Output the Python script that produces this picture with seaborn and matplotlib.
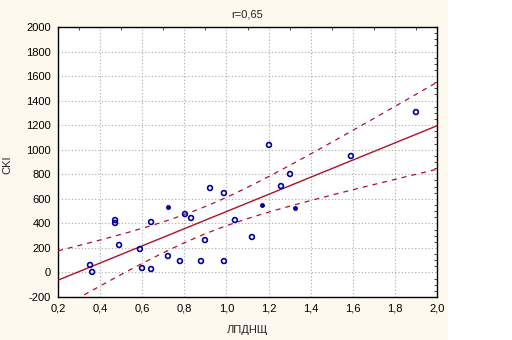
import numpy as np
import pandas as pd
import matplotlib
matplotlib.use("Agg")
import matplotlib.pyplot as plt
import seaborn as sns
from matplotlib.patches import Rectangle
from matplotlib.ticker import MultipleLocator, FuncFormatter

# Data
lpdnsch = [0.352, 0.362, 0.471, 0.471, 0.490, 0.589, 0.599, 0.642, 0.642, 0.722,
           0.779, 0.803, 0.832, 0.879, 0.898, 0.922, 0.988, 0.988, 1.040, 1.121,
           1.202, 1.259, 1.302, 1.591, 1.900]
cki = [61, 4, 427, 403, 224, 191, 36, 28, 411, 134,
       93, 476, 444, 93, 264, 688, 647, 93, 427, 289,
       1039, 704, 802, 949, 1307]
lpdnsch_solid = [0.722, 1.168, 1.325]
cki_solid = [533, 550, 525]

title = "r=0,65"
xlabel = "ЛПДНЩ"
ylabel = "CKI"

sns.set_style("white")
plt.rcParams["font.family"] = ["Liberation Sans", "DejaVu Sans"]

fig = plt.figure(figsize=(5.12, 3.4), dpi=100)
fig.patch.set_facecolor("white")
fig.patches.append(Rectangle((0, 0), 448 / 512, 1, transform=fig.transFigure,
                             facecolor="#FDF9EE", edgecolor="none", zorder=-10))
ax = fig.add_axes([58 / 512, 1 - 297 / 340, (437 - 58) / 512, (297 - 27) / 340])
ax.set_facecolor("white")

df = pd.DataFrame({"x": lpdnsch, "y": cki})
dfs = pd.DataFrame({"x": lpdnsch_solid, "y": cki_solid})
allx = np.array(lpdnsch + lpdnsch_solid)
ally = np.array(cki + cki_solid)

# regression and confidence band (99%)
b, a = np.polyfit(allx, ally, 1)
n = len(allx)
resid = ally - (a + b * allx)
s = np.sqrt(np.sum(resid ** 2) / (n - 2))
xm = allx.mean()
sxx = np.sum((allx - xm) ** 2)
tval = 2.787
xg = np.linspace(0.2, 2.0, 200)
yg = a + b * xg
se = s * np.sqrt(1 / n + (xg - xm) ** 2 / sxx)
line_df = pd.DataFrame({"x": xg, "fit": yg, "lo": yg - tval * se, "hi": yg + tval * se})

lc = "#B0102A"
sns.lineplot(data=line_df, x="x", y="fit", ax=ax, color=lc, lw=1.0, zorder=3)
sns.lineplot(data=line_df, x="x", y="lo", ax=ax, color=lc, lw=0.9, zorder=3)
sns.lineplot(data=line_df, x="x", y="hi", ax=ax, color=lc, lw=0.9, zorder=3)
for l in ax.lines[1:]:
    l.set_dashes([4, 4])

sns.scatterplot(data=df, x="x", y="y", ax=ax, marker="o", s=12,
                facecolor="none", edgecolor="#0000A0", linewidth=1.2, zorder=4)
sns.scatterplot(data=dfs, x="x", y="y", ax=ax, marker="o", s=9,
                color="#0000A0", edgecolor="#0000A0", linewidth=0.5, zorder=4)

ax.set_xlim(0.2, 2.0)
ax.set_ylim(-200, 2000)
ax.xaxis.set_major_locator(MultipleLocator(0.2))
ax.yaxis.set_major_locator(MultipleLocator(200))
ax.xaxis.set_minor_locator(MultipleLocator(0.1))
ax.yaxis.set_minor_locator(MultipleLocator(50))
ax.xaxis.set_major_formatter(FuncFormatter(lambda v, p: f"{v:.1f}".replace(".", ",")))
ax.yaxis.set_major_formatter(FuncFormatter(lambda v, p: f"{v:.0f}"))
ax.grid(True, which="major", color="#A8A8A8", linestyle=(0, (1, 2)), linewidth=0.8)
ax.set_axisbelow(True)
for sp in ax.spines.values():
    sp.set_visible(True)
    sp.set_color("black")
    sp.set_linewidth(1.0)
ax.tick_params(which="major", direction="out", length=3, width=0.8,
               labelsize=8, colors="black", pad=2)
ax.tick_params(which="minor", direction="in", length=2, width=0.6,
               top=True, right=True)
ax.tick_params(which="major", top=False, right=False)

ax.set_title(title, fontsize=8, pad=7)
ax.set_xlabel(xlabel, fontsize=8)
ax.set_ylabel(ylabel, fontsize=8)
ax.xaxis.set_label_coords(0.5, -0.105)
ax.yaxis.set_label_coords(-0.12, 0.49)

fig.savefig("out.png", dpi=100, facecolor=fig.get_facecolor())
